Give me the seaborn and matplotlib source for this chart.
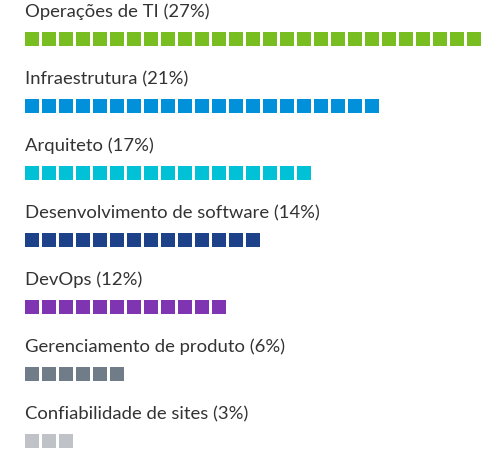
import numpy as np
import pandas as pd
import matplotlib
matplotlib.use("Agg")
import matplotlib.pyplot as plt
import seaborn as sns

# data
roles = ["Operações de TI", "Infraestrutura", "Arquiteto",
         "Desenvolvimento de software", "DevOps",
         "Gerenciamento de produto", "Confiabilidade de sites"]
shares = [27, 21, 17, 14, 12, 6, 3]
colors = ["#78BE20", "#0091DA", "#00C1D5", "#1D428A",
          "#7F35B2", "#717C89", "#BFC3C8"]

# one square per percentage point
rows = []
for r, (role, n) in enumerate(zip(roles, shares)):
    for i in range(n):
        rows.append({"role": role, "row": r, "idx": i})
df = pd.DataFrame(rows)

sns.set_theme(style="white")
plt.rcParams["font.family"] = ["Lato", "DejaVu Sans"]

fig = plt.figure(figsize=(4.97, 4.51), dpi=100)
ax = fig.add_axes([0, 0, 1, 1])

sns.scatterplot(data=df, x="idx", y="row", hue="role", palette=colors,
                hue_order=roles, marker="s", s=88, linewidth=0,
                legend=False, ax=ax)

# pixel layout: square centres at x=32+17*i, y=39+67*r
ax.set_xlim(-32 / 17, (497 - 32) / 17)
ax.set_ylim((451 - 39) / 67, -39 / 67)

for r, (role, n) in enumerate(zip(roles, shares)):
    ax.text((25 - 32) / 17, r - 27 / 67, f"{role} ({n}%)",
            fontsize=13.3, color="#333333", va="center", ha="left")

ax.axis("off")
fig.savefig("out.png", dpi=100)
